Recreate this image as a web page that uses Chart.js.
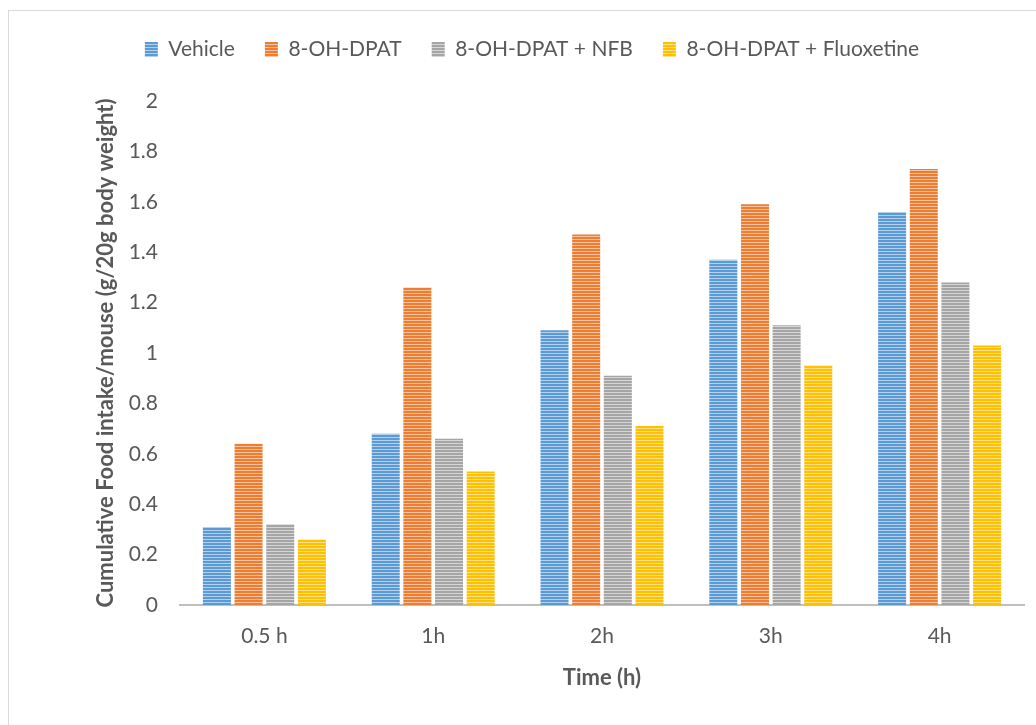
<!DOCTYPE html>
<html>
<head>
<meta charset="utf-8">
<script src="https://cdn.jsdelivr.net/npm/chart.js@4.4.1/dist/chart.umd.min.js"></script>
<style>
  html, body { margin: 0; padding: 0; background: #ffffff; }
  #wrap { position: relative; width: 1036px; height: 725px; overflow: hidden; }
  #frame { position: absolute; left: 8px; top: 10px; width: 1100px; height: 1000px; border: 1px solid #d9d9d9; box-sizing: border-box; }
  #c { position: absolute; left: 0; top: 0; }
</style>
</head>
<body>
<div id="wrap">
  <div id="frame"></div>
  <canvas id="c" width="1036" height="725"></canvas>
</div>
<script>
// Time points and cumulative intake per treatment group
const categories = ['0.5 h', '1h', '2h', '3h', '4h'];
const seriesNames = ['Vehicle', '8-OH-DPAT', '8-OH-DPAT + NFB', '8-OH-DPAT + Fluoxetine'];
const vehicle     = [0.31, 0.68, 1.09, 1.37, 1.56];
const dpat        = [0.64, 1.26, 1.47, 1.59, 1.73];
const dpatNfb     = [0.32, 0.66, 0.91, 1.11, 1.28];
const dpatFluox   = [0.26, 0.53, 0.71, 0.95, 1.03];
const yTicks      = [0, 0.2, 0.4, 0.6, 0.8, 1, 1.2, 1.4, 1.6, 1.8, 2];

const baseColors  = ['#5B9BD5', '#ED7D31', '#A5A5A5', '#FFC000'];
const lightColors = ['#B5D0EC', '#F6C2A0', '#D6D6D6', '#FFE08A'];

// horizontal stripe fill for the bars
function stripes(base, light) {
  const p = document.createElement('canvas');
  p.width = 4; p.height = 3;
  const g = p.getContext('2d');
  g.fillStyle = base; g.fillRect(0, 0, 4, 3);
  g.fillStyle = light; g.fillRect(0, 2, 4, 1);
  return g.createPattern(p, 'repeat');
}

// leave extra room between the legend row and the plot
const legendGap = {
  id: 'legendGap',
  afterInit(chart) {
    const lg = chart.legend;
    const fit = lg.fit;
    lg.fit = function () { fit.call(this); this.height += 31; };
  }
};

const ctx = document.getElementById('c').getContext('2d');
const values = [vehicle, dpat, dpatNfb, dpatFluox];
const FONT = 'Lato, "Open Sans", sans-serif';
const TXT = '#595959';

new Chart(ctx, {
  type: 'bar',
  data: {
    labels: categories,
    datasets: seriesNames.map((name, i) => ({
      label: name,
      data: values[i],
      backgroundColor: stripes(baseColors[i], lightColors[i]),
      borderWidth: 0,
      categoryPercentage: 0.75,
      barPercentage: 0.885
    }))
  },
  plugins: [legendGap],
  options: {
    responsive: false,
    animation: false,
    devicePixelRatio: 1,
    layout: { padding: { left: 40, right: 12, top: 9, bottom: 30 } },
    plugins: {
      legend: {
        position: 'top',
        labels: {
          font: { family: FONT, size: 21 },
          color: TXT,
          boxWidth: 13,
          boxHeight: 15,
          padding: 30,
          generateLabels(chart) {
            return seriesNames.map((n, i) => ({
              text: n,
              fillStyle: stripes(baseColors[i], lightColors[i]),
              strokeStyle: 'rgba(0,0,0,0)',
              lineWidth: 0,
              datasetIndex: i,
              fontColor: TXT
            }));
          }
        }
      },
      tooltip: { enabled: false }
    },
    scales: {
      x: {
        grid: { display: false, drawTicks: false },
        border: { color: '#BFBFBF', width: 2 },
        ticks: { font: { family: FONT, size: 21 }, color: TXT, padding: 19 },
        title: { display: true, text: 'Time (h)', font: { family: FONT, size: 22, weight: 'bold' }, color: TXT, padding: { top: 3 } },
        afterFit(s) { s.height = 90; }
      },
      y: {
        min: 0, max: 2,
        grid: { display: false, drawTicks: false },
        border: { display: false },
        afterBuildTicks(s) { s.ticks = yTicks.map(v => ({ value: v })); },
        ticks: {
          font: { family: FONT, size: 21 }, color: TXT, padding: 22,
          callback: v => String(Math.round(v * 10) / 10)
        },
        title: { display: true, text: 'Cumulative Food intake/mouse (g/20g body weight)', font: { family: FONT, size: 22, weight: 'bold' }, color: TXT, padding: { top: 53 } },
        afterFit(s) { s.width = 140; }
      }
    }
  }
});
</script>
</body>
</html>
